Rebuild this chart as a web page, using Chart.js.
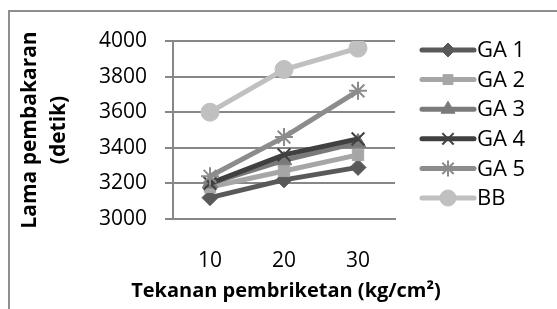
<!DOCTYPE html>
<html><head><meta charset="utf-8">
<script src="https://cdn.jsdelivr.net/npm/chart.js@4.4.0/dist/chart.umd.min.js"></script>
<style>html,body{margin:0;padding:0;background:#fff}#wrap{width:557px;height:309px;position:relative}</style>
</head><body><div id="wrap"><canvas id="c" width="557" height="309"></canvas></div>
<script>
const categories = ['10', '20', '30'];
const seriesNames = ['GA 1', 'GA 2', 'GA 3', 'GA 4', 'GA 5', 'BB'];
const ga1 = [3120, 3220, 3290];
const ga2 = [3180, 3270, 3360];
const ga3 = [3200, 3330, 3430];
const ga4 = [3200, 3360, 3450];
const ga5 = [3240, 3460, 3720];
const bb  = [3600, 3840, 3960];
const yTicks = [3000, 3200, 3400, 3600, 3800, 4000];
const xTitle = 'Tekanan pembriketan (kg/cm²)';
const yTitle = ['Lama pembakaran', '(detik)'];

const FONT = "'Open Sans', sans-serif";
const styles = [
  {color:'#595959', point:'rectRot', r:8},
  {color:'#a6a6a6', point:'rect', r:8},
  {color:'#7a7a7a', point:'triangle', r:9},
  {color:'#404040', point:'crossRot', r:9},
  {color:'#8c8c8c', point:'star', r:9},
  {color:'#c0c0c0', point:'circle', r:9}
];
const allData = [ga1, ga2, ga3, ga4, ga5, bb];

const datasets = allData.map((d, i) => ({
  label: seriesNames[i],
  data: d,
  borderColor: styles[i].color,
  backgroundColor: styles[i].color,
  pointBackgroundColor: styles[i].color,
  pointBorderColor: styles[i].color,
  pointBorderWidth: (styles[i].point === 'crossRot' || styles[i].point === 'star') ? 2 : 1,
  borderWidth: 5,
  pointStyle: styles[i].point,
  pointRadius: styles[i].r,
  pointHoverRadius: styles[i].r,
  tension: 0,
  order: allData.length - i
}));

const frame = {
  id: 'frame',
  beforeDraw(chart) {
    const ctx = chart.ctx;
    ctx.save();
    ctx.fillStyle = '#fff';
    ctx.fillRect(0, 0, chart.width, chart.height);
    ctx.fillStyle = '#8f8f8f';
    ctx.fillRect(8, 10, 2, chart.height - 10);
    ctx.fillRect(8, 10, chart.width - 8, 2);
    ctx.restore();
  },
  afterDraw(chart) {
    const ctx = chart.ctx;
    ctx.save();
    ctx.fillStyle = '#000';
    ctx.font = 'bold 20px ' + FONT;
    ctx.textAlign = 'center';
    ctx.textBaseline = 'middle';
    ctx.fillText(xTitle, 286, 291);
    ctx.restore();
  }
};

const legendPlugin = {
  id: 'sideLegend',
  afterDraw(chart) {
    const ctx = chart.ctx;
    ctx.save();
    chart.data.datasets.forEach((ds, i) => {
      const y = 50 + i * 29.6;
      ctx.strokeStyle = ds.borderColor;
      ctx.lineWidth = 5;
      ctx.lineCap = 'round';
      ctx.beginPath();
      ctx.moveTo(422, y);
      ctx.lineTo(474, y);
      ctx.stroke();
      ctx.lineCap = 'butt';
      ctx.fillStyle = ds.pointBackgroundColor;
      ctx.strokeStyle = ds.pointBorderColor;
      ctx.lineWidth = ds.pointBorderWidth;
      Chart.helpers.drawPoint(ctx, {pointStyle: ds.pointStyle, radius: ds.pointRadius - 1, borderWidth: ds.pointBorderWidth, rotation: 0}, 448, y);
      ctx.fillStyle = '#000';
      ctx.font = '22px ' + FONT;
      ctx.textBaseline = 'middle';
      ctx.textAlign = 'left';
      ctx.fillText(ds.label, 477, y + 1);
    });
    ctx.restore();
  }
};

new Chart(document.getElementById('c'), {
  type: 'line',
  data: { labels: categories, datasets },
  plugins: [frame, legendPlugin],
  options: {
    responsive: false,
    animation: false,
    events: [],
    layout: { padding: { top: 41, right: 162, left: 0, bottom: 0 } },
    plugins: { legend: { display: false }, tooltip: { enabled: false } },
    scales: {
      x: {
        type: 'category',
        offset: true,
        grid: { display: false },
        border: { display: true, color: '#878787', width: 2 },
        ticks: { color: '#000', font: { family: FONT, size: 21 }, padding: 21 },
        afterFit(s) { s.height = 90; }
      },
      y: {
        min: 3000, max: 4000,
        afterBuildTicks(s) { s.ticks = yTicks.map(v => ({ value: v })); },
        grid: { color: '#878787', lineWidth: 2, tickLength: 8, drawTicks: true },
        border: { display: true, color: '#878787', width: 2 },
        ticks: { color: '#000', font: { family: FONT, size: 21 }, padding: 18,
                 callback: (v) => String(v) },
        title: { display: true, text: yTitle, color: '#000',
                 font: { family: FONT, size: 21, weight: 'bold', lineHeight: 1.4 },
                 padding: { top: 15, bottom: 0 } },
        afterFit(s) { s.width = 173; }
      }
    }
  }
});
</script></body></html>
